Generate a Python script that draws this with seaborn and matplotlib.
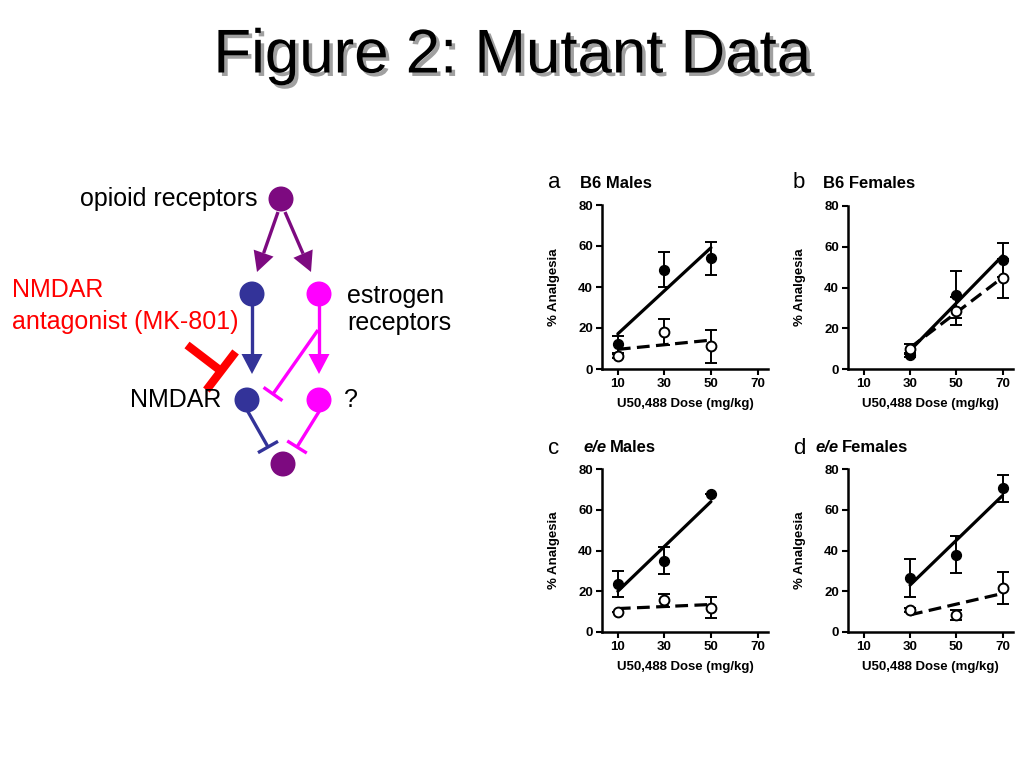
import numpy as np
import matplotlib
matplotlib.use("Agg")
import matplotlib.pyplot as plt
import matplotlib.patheffects as pe
from matplotlib.patches import Circle, Polygon
import seaborn as sns

# ==========================================================
# DATA
# ==========================================================

doses_males = [10, 30, 50]
doses_females = [30, 50, 70]

b6_males_filled = [12, 48.5, 54]
b6_males_filled_err = [4, 8.7, 8]
b6_males_open = [6.5, 18, 11]
b6_males_open_err = [1, 6.5, 8]

b6_females_filled = [7, 36.5, 53.5]
b6_females_filled_err = [1, 11.5, 8.5]
b6_females_open = [10, 28.5, 44.5]
b6_females_open_err = [2.5, 7, 9.5]

ee_males_filled = [23.5, 35, 67.5]
ee_males_filled_err = [6.5, 6.5, 0]
ee_males_open = [10, 15.5, 12]
ee_males_open_err = [0, 3, 5]

ee_females_filled = [26.5, 38, 70.5]
ee_females_filled_err = [9.5, 9, 6.5]
ee_females_open = [11, 8.5, 21.5]
ee_females_open_err = [1, 2.5, 8]

panel_letters = ["a", "b", "c", "d"]
panel_strains = ["B6", "B6", "e/e", "e/e"]
panel_sexes = ["Males", "Females", "Males", "Females"]

x_ticks = [10, 30, 50, 70]
y_ticks = [0, 20, 40, 60, 80]

# diagram nodes (pixel positions on the slide)
node_x = [281, 252, 319, 247, 319, 283]
node_y = [199, 294, 294, 400, 400, 464]
node_colors = ["#7d0a80", "#333399", "#ff00ff", "#333399", "#ff00ff", "#7d0a80"]

PURPLE = "#7d0a80"
NAVY = "#333399"
MAGENTA = "#ff00ff"
RED = "#ff0000"

# ==========================================================
# FIGURE
# ==========================================================

sns.set_theme(style="ticks")
plt.rcParams["font.family"] = ["Liberation Sans", "DejaVu Sans"]
plt.rcParams["text.color"] = "black"
plt.rcParams["axes.labelcolor"] = "black"
plt.rcParams["xtick.color"] = "black"
plt.rcParams["ytick.color"] = "black"

fig = plt.figure(figsize=(10.24, 7.68), dpi=100)
fig.patch.set_facecolor("white")

# overlay in slide pixel coordinates for text and diagram
ov = fig.add_axes([0, 0, 1, 1])
ov.set_xlim(0, 1024)
ov.set_ylim(768, 0)
ov.axis("off")

ov.text(
    512, 57, "Figure 2: Mutant Data",
    fontsize=44.5, ha="center", va="center", color="black",
    path_effects=[pe.withSimplePatchShadow(offset=(2.5, -2.5), shadow_rgbFace="#888888", alpha=0.8)]
)

# ==========================================================
# PATHWAY DIAGRAM
# ==========================================================


def arrow(p0, p1, color, head_len=20, head_w=21, lw=2.4):
    p0, p1 = np.array(p0, float), np.array(p1, float)
    d = (p1 - p0) / np.linalg.norm(p1 - p0)
    n = np.array([-d[1], d[0]])
    base = p1 - d * head_len
    ov.plot([p0[0], base[0]], [p0[1], base[1]], color=color, lw=lw, solid_capstyle="butt")
    ov.add_patch(Polygon([p1, base + n * head_w / 2, base - n * head_w / 2], closed=True,
                         facecolor=color, edgecolor="none"))


def tee(p0, p1, color, bar=23, lw=2.4):
    p0, p1 = np.array(p0, float), np.array(p1, float)
    d = (p1 - p0) / np.linalg.norm(p1 - p0)
    n = np.array([-d[1], d[0]])
    ov.plot([p0[0], p1[0]], [p0[1], p1[1]], color=color, lw=lw, solid_capstyle="butt")
    b0, b1 = p1 + n * bar / 2, p1 - n * bar / 2
    ov.plot([b0[0], b1[0]], [b0[1], b1[1]], color=color, lw=lw, solid_capstyle="butt")


arrow((278, 212), (257, 272), PURPLE)
arrow((285, 212), (311, 272), PURPLE)
arrow((252, 303), (252, 374), NAVY)
arrow((319, 303), (319, 374), MAGENTA)
tee((318, 330), (273, 394), MAGENTA)
tee((247, 410), (268, 447), NAVY)
tee((320, 410), (297, 447), MAGENTA)
tee((187, 345), (221, 371), RED, bar=48, lw=6)

for x, y, c in zip(node_x, node_y, node_colors):
    ov.add_patch(Circle((x, y), 12.5, facecolor=c, edgecolor="none", zorder=3))

ov.text(258, 199, "opioid receptors", fontsize=18, ha="right", va="center")
ov.text(12, 290, "NMDAR", fontsize=18, color=RED, ha="left", va="center")
ov.text(12, 322, "antagonist (MK-801)", fontsize=18, color=RED, ha="left", va="center")
ov.text(347, 296, "estrogen", fontsize=18, ha="left", va="center")
ov.text(347, 323, "receptors", fontsize=18, ha="left", va="center")
ov.text(221, 400, "NMDAR", fontsize=18, ha="right", va="center")
ov.text(344, 400, "?", fontsize=18, ha="left", va="center")

# ==========================================================
# DOSE-RESPONSE PANELS
# ==========================================================

panel_data = [
    (doses_males, b6_males_filled, b6_males_filled_err, b6_males_open, b6_males_open_err),
    (doses_females, b6_females_filled, b6_females_filled_err, b6_females_open, b6_females_open_err),
    (doses_males, ee_males_filled, ee_males_filled_err, ee_males_open, ee_males_open_err),
    (doses_females, ee_females_filled, ee_females_filled_err, ee_females_open, ee_females_open_err),
]

# [left, top, right, bottom] in slide pixels
panel_boxes = [
    (602, 205, 768, 369),
    (848, 206, 1013, 369),
    (602, 469, 768, 632),
    (848, 469, 1013, 632),
]

title_pos = [(548, 580, 183), (793, 823, 183), (548, 583, 448), (793, 815, 448)]

for i, (doses, filled, filled_err, opened, opened_err) in enumerate(panel_data):
    l, t, r, b = panel_boxes[i]
    ax = fig.add_axes([l / 1024, (768 - b) / 768, (r - l) / 1024, (b - t) / 768])
    ax.set_facecolor("none")

    # regression lines through the group means
    sns.regplot(x=doses, y=filled, ci=None, scatter=False, ax=ax,
                line_kws=dict(color="black", lw=2.3, zorder=2))
    sns.regplot(x=doses, y=opened, ci=None, scatter=False, ax=ax,
                line_kws=dict(color="black", lw=2.3, ls=(0, (4.0, 2.0)), zorder=2))

    ax.errorbar(doses, filled, yerr=filled_err, fmt="none", ecolor="black",
                elinewidth=1.4, capsize=4, capthick=1.4, zorder=3)
    ax.errorbar(doses, opened, yerr=opened_err, fmt="none", ecolor="black",
                elinewidth=1.4, capsize=4, capthick=1.4, zorder=3)

    sns.scatterplot(x=doses, y=filled, color="black", s=50, edgecolor="black",
                    linewidth=1, ax=ax, zorder=4)
    sns.scatterplot(x=doses, y=opened, color="white", s=50, edgecolor="black",
                    linewidth=1.4, ax=ax, zorder=4)

    ax.set_xlim(3.2, 74.5)
    ax.set_ylim(0, 80)
    ax.set_xticks(x_ticks)
    ax.set_yticks(y_ticks)
    ax.set_xticklabels([str(v) for v in x_ticks], fontsize=9.5, fontweight="bold")
    ax.set_yticklabels([str(v) for v in y_ticks], fontsize=9.5, fontweight="bold")
    ax.tick_params(axis="both", length=4, width=1.5, pad=2.5, color="black")
    for side in ["left", "bottom"]:
        ax.spines[side].set_linewidth(1.8)
        ax.spines[side].set_color("black")
    sns.despine(ax=ax)

    ax.set_xlabel("U50,488 Dose (mg/kg)", fontsize=9.5, fontweight="bold")
    ax.set_ylabel("% Analgesia", fontsize=9.5, fontweight="bold")
    ax.xaxis.set_label_coords(0.5, -0.175)
    ax.yaxis.set_label_coords(-0.255, 0.5)

    # panel letter and title
    lx, tx, ty = title_pos[i]
    ov.text(lx, ty, panel_letters[i], fontsize=16, ha="left", va="center")
    strain = panel_strains[i]
    if strain == "e/e":
        t1 = ov.text(tx, ty, strain, fontsize=12, fontweight="bold", style="italic",
                     ha="left", va="center")
        ov.annotate(panel_sexes[i], xy=(1, 0.5), xycoords=t1, xytext=(3, 0),
                    textcoords="offset points", fontsize=12, fontweight="bold",
                    ha="left", va="center")
    else:
        ov.text(tx, ty, f"{strain} {panel_sexes[i]}", fontsize=12, fontweight="bold",
                ha="left", va="center")

fig.savefig("out.png", dpi=100, facecolor="white")
